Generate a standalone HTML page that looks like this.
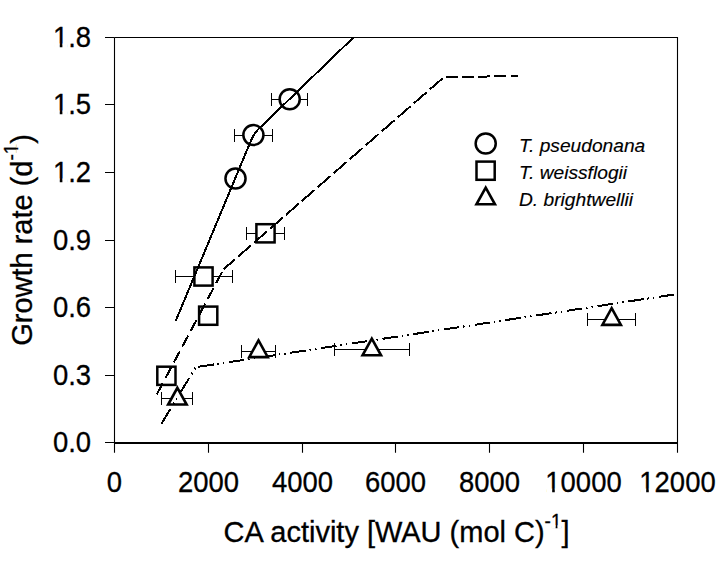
<!DOCTYPE html>
<html><head><meta charset="utf-8">
<style>
html,body{margin:0;padding:0;background:#fff;}
body{width:721px;height:563px;overflow:hidden;}
svg{display:block;}
text{font-family:"Liberation Sans",sans-serif;fill:#000;stroke:#000;stroke-width:0.3;}
.leg text{stroke-width:0.15;}
</style></head>
<body>
<svg width="721" height="563" viewBox="0 0 721 563">
<rect x="0" y="0" width="721" height="563" fill="#fff"/>

<g stroke="#000" fill="none" stroke-width="1.1">
<path d="M114.5 37.5H677.5V443M114.5 37.5V443"/>
<path d="M114 443H678" stroke-width="1.9"/>
<path d="M105 442.5H114.5M105 375.5H114.5M105 307.5H114.5M105 240.5H114.5M105 172.5H114.5M105 104.5H114.5M105 37.5H114.5"/>
<path d="M114.5 443V452.8M208.5 443V452.8M302.5 443V452.8M395.5 443V452.8M489.5 443V452.8M583.5 443V452.8M677.5 443V452.8"/>
</g>
<g font-size="28" text-anchor="end">
<text transform="translate(91.1,452) scale(0.98,1.08)">0.0</text>
<text transform="translate(91.1,385) scale(0.98,1.08)">0.3</text>
<text transform="translate(91.1,317) scale(0.98,1.08)">0.6</text>
<text transform="translate(91.1,250) scale(0.98,1.08)">0.9</text>
<text transform="translate(91.1,182) scale(0.98,1.08)">1.2</text>
<text transform="translate(91.1,114) scale(0.98,1.08)">1.5</text>
<text transform="translate(91.1,47) scale(0.98,1.08)">1.8</text>
</g>
<g font-size="28" text-anchor="middle">
<text transform="translate(114.5,492) scale(0.98,1.08)">0</text>
<text transform="translate(208.5,492) scale(0.98,1.08)">2000</text>
<text transform="translate(302.5,492) scale(0.98,1.08)">4000</text>
<text transform="translate(395.5,492) scale(0.98,1.08)">6000</text>
<text transform="translate(489.5,492) scale(0.98,1.08)">8000</text>
<text transform="translate(583.5,492) scale(0.98,1.08)">10000</text>
<text transform="translate(677.5,492) scale(0.98,1.08)">12000</text>
</g>
<text font-size="29" text-anchor="middle" transform="translate(32.3,239.9) rotate(-90) scale(1,1.03)">Growth rate (d<tspan font-size="19" dy="-13.5">-1</tspan><tspan dy="13.5">)</tspan></text>
<text font-size="29" transform="translate(223.6,541.5) scale(1,1.03)">CA activity [WAU (mol C)<tspan font-size="19" dy="-13.5">-1</tspan><tspan dy="13.5">]</tspan></text>
<g fill="none" stroke="#000" stroke-width="1">
<path d="M234.5 135.5H272.5M234.5 129V142M272.5 129V142M271.5 99.5H307.5M271.5 93V106M307.5 93V106M175.5 276.5H232.5M175.5 270V283M232.5 270V283M246.5 233.5H284.5M246.5 227V240M284.5 227V240M161.5 398.5H192.5M161.5 392V405M192.5 392V405M241.5 351.5H275.5M241.5 345V358M275.5 345V358M334.5 349.5H409.5M334.5 343V356M409.5 343V356M587.5 319.5H635.5M587.5 313V326M635.5 313V326"/>
</g>
<g fill="#fff" stroke="#000" stroke-width="2.5">
<circle cx="235.5" cy="178.5" r="10.05"/>
<circle cx="253.4" cy="135" r="10.05"/>
<circle cx="289.7" cy="99.3" r="10.05"/>
<circle cx="485.7" cy="143.5" r="10.05"/>
</g>
<g fill="#fff" stroke="#000" stroke-width="2.5">
<rect x="157.3" y="366.7" width="18.2" height="18.2"/>
<rect x="194.4" y="267.4" width="18.2" height="18.2"/>
<rect x="199.1" y="306.6" width="18.2" height="18.2"/>
<rect x="256.4" y="224.2" width="18.2" height="18.2"/>
<rect x="476.5" y="161.6" width="18.2" height="18.2"/>
</g>
<g fill="#fff" stroke="#000" stroke-width="2.6">
<path d="M177.4 387.8L186.65 404.5L168.15 404.5Z"/>
<path d="M258.5 340.4L267.75 357.1L249.25 357.1Z"/>
<path d="M371.8 338.6L381.05 355.3L362.55 355.3Z"/>
<path d="M611.65 308.2L620.9 324.9L602.4 324.9Z"/>
<path d="M485.7 187.6L494.95 204.3L476.45 204.3Z"/>
</g>
<g fill="none" stroke="#000" stroke-width="2" shape-rendering="crispEdges">
<path d="M175.7 321L250.8 141Q254 133.4 258.5 129L353.4 37.5"/>
<path d="M156.9 394.2L223.5 269.3" stroke-dasharray="12.5 5.5"/>
<path d="M223.5 269.3L443.5 77.5" stroke-dasharray="17 4.2" stroke-dashoffset="2"/>
<path d="M443.5 77.5L517.6 75.8" stroke-dasharray="12 4.2" stroke-dashoffset="13.9"/>
<path d="M161.5 423.6L195.8 367.2" stroke-dasharray="17 6.25 1.5 3.4 1.5 7.55 16 4.85 1.5 4.2 1.5 20"/>
<path d="M195.8 367.2L675.4 294.3" stroke-dasharray="15.6 3.7 1.5 4.1 1.5 4.67" stroke-dashoffset="28.6"/>
</g>
<g fill="#fff" stroke="none">
<g transform="translate(91.1,182) scale(0.98,1.08)"><rect x="-37.82" y="-3.14" width="5.85" height="4.34"/><rect x="-29.30" y="-3.14" width="5.56" height="4.34"/></g>
<g transform="translate(91.1,114) scale(0.98,1.08)"><rect x="-37.82" y="-3.14" width="5.85" height="4.34"/><rect x="-29.30" y="-3.14" width="5.56" height="4.34"/></g>
<g transform="translate(91.1,47) scale(0.98,1.08)"><rect x="-37.82" y="-3.14" width="5.85" height="4.34"/><rect x="-29.30" y="-3.14" width="5.56" height="4.34"/></g>
<g transform="translate(583.5,492) scale(0.98,1.08)"><rect x="-37.82" y="-3.14" width="5.85" height="4.34"/><rect x="-29.31" y="-3.14" width="5.56" height="4.34"/></g>
<g transform="translate(677.5,492) scale(0.98,1.08)"><rect x="-37.82" y="-3.14" width="5.85" height="4.34"/><rect x="-29.31" y="-3.14" width="5.56" height="4.34"/></g>
<g transform="translate(32.3,239.9) rotate(-90) scale(1,1.03)"><rect x="86.40" y="-15.63" width="3.97" height="3.33"/><rect x="92.18" y="-15.63" width="3.78" height="3.33"/></g>
<g transform="translate(223.6,541.5) scale(1,1.03)"><rect x="328.05" y="-15.63" width="3.97" height="3.33"/><rect x="333.83" y="-15.63" width="3.78" height="3.33"/></g>
</g>
<g class="leg" font-size="19.2" font-style="italic">
<text transform="translate(519,151.5) scale(1,0.965)">T. pseudonana</text>
<text transform="translate(519,178.5) scale(1,0.965)">T. weissflogii</text>
<text transform="translate(519,205.9) scale(1,0.965)">D. brightwellii</text>
</g>
</svg>
</body></html>
